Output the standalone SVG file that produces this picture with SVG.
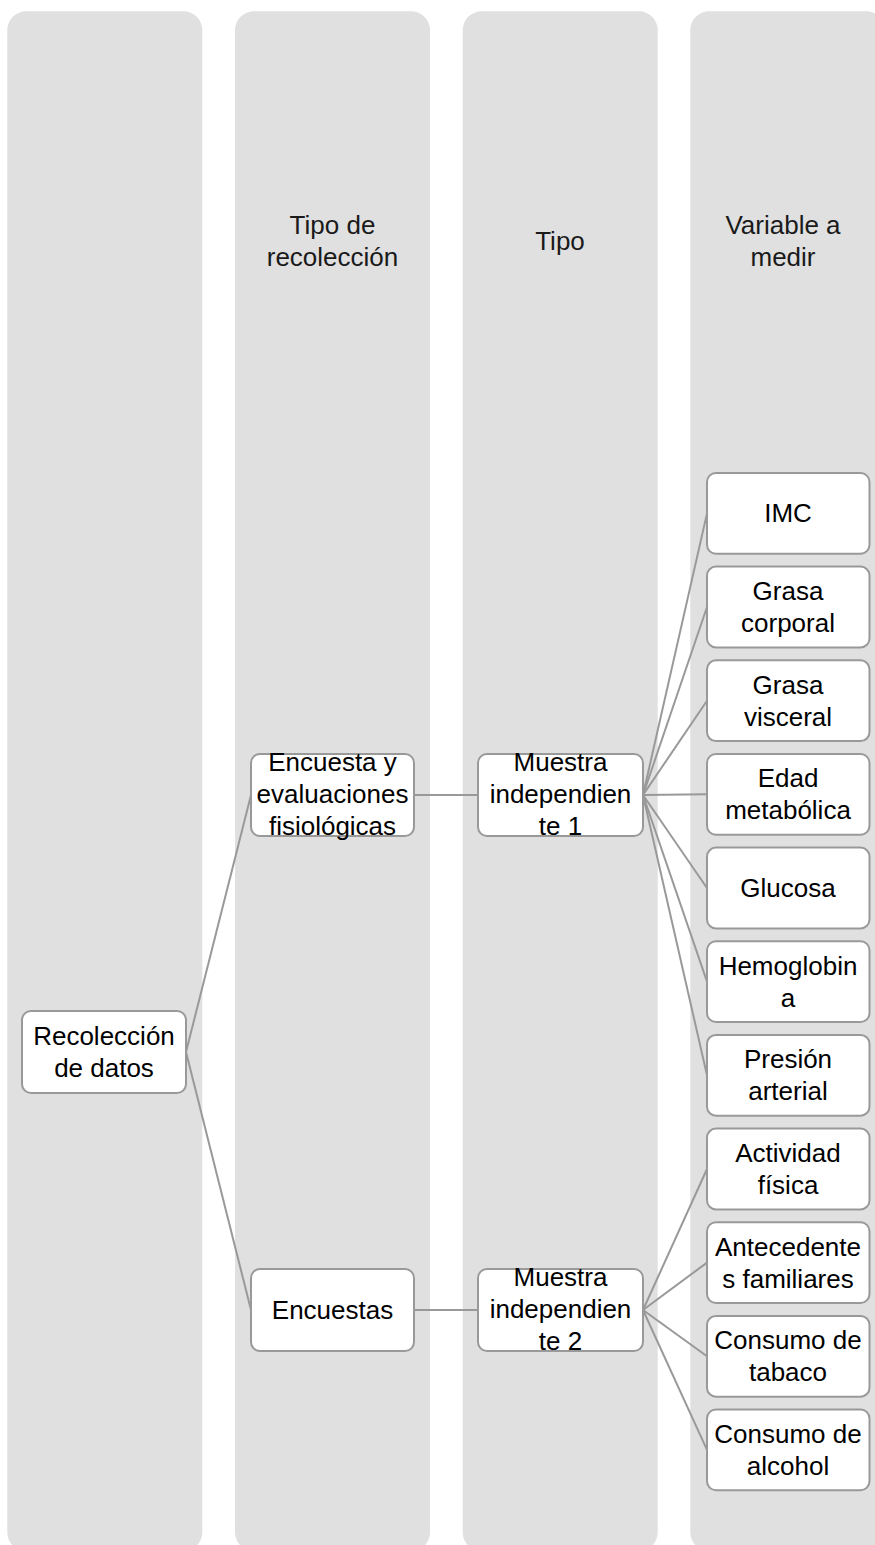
<svg xmlns="http://www.w3.org/2000/svg" width="875" height="1545" viewBox="0 0 875 1545">
<style>
.col{fill:#e0e0e0;}
.node rect{fill:#ffffff;stroke:#999999;stroke-width:2;}
text{font-family:"Liberation Sans",Arial,sans-serif;font-size:26px;fill:#000000;text-anchor:middle;}
.hdr{fill:#1a1a1a;}
#connectors line{stroke:#999999;stroke-width:2;}
</style>
<g id="columns">
<rect class="col" x="7.3" y="11.3" width="195" height="1540" rx="19"/>
<rect class="col" x="235" y="11.3" width="195" height="1540" rx="19"/>
<rect class="col" x="462.7" y="11.3" width="195" height="1540" rx="19"/>
<rect class="col" x="690.3" y="11.3" width="195" height="1540" rx="19"/>
</g>
<g id="headers">
<text class="hdr" x="332.5" y="234">Tipo de</text>
<text class="hdr" x="332.5" y="266">recolección</text>
<text class="hdr" x="560" y="250">Tipo</text>
<text class="hdr" x="783" y="234">Variable a</text>
<text class="hdr" x="783" y="266">medir</text>
</g>
<g id="connectors">
<line x1="186" y1="1052" x2="251" y2="795"/>
<line x1="186" y1="1052" x2="251" y2="1310"/>
<line x1="414" y1="795" x2="478" y2="795"/>
<line x1="414" y1="1310" x2="478" y2="1310"/>
<line x1="643" y1="795" x2="707" y2="513.4"/>
<line x1="643" y1="795" x2="707" y2="607"/>
<line x1="643" y1="795" x2="707" y2="700.7"/>
<line x1="643" y1="795" x2="707" y2="794.3"/>
<line x1="643" y1="795" x2="707" y2="888"/>
<line x1="643" y1="795" x2="707" y2="981.6"/>
<line x1="643" y1="795" x2="707" y2="1075.3"/>
<line x1="643" y1="1310" x2="707" y2="1169"/>
<line x1="643" y1="1310" x2="707" y2="1262.6"/>
<line x1="643" y1="1310" x2="707" y2="1356.3"/>
<line x1="643" y1="1310" x2="707" y2="1449.9"/>
</g>
<g id="n-recoleccion" class="node">
<rect x="22" y="1011" width="164" height="82" rx="9"/>
<text x="104" y="1045">Recolección</text>
<text x="104" y="1077">de datos</text>
</g>
<g id="n-encuesta-eval" class="node">
<rect x="251" y="754" width="163" height="82" rx="9"/>
<text x="332.5" y="771">Encuesta y</text>
<text x="332.5" y="803">evaluaciones</text>
<text x="332.5" y="835">fisiológicas</text>
</g>
<g id="n-encuestas" class="node">
<rect x="251" y="1269" width="163" height="82" rx="9"/>
<text x="332.5" y="1319">Encuestas</text>
</g>
<g id="n-muestra1" class="node">
<rect x="478" y="754" width="165" height="82" rx="9"/>
<text x="560.5" y="771">Muestra</text>
<text x="560.5" y="803">independien</text>
<text x="560.5" y="835">te 1</text>
</g>
<g id="n-muestra2" class="node">
<rect x="478" y="1269" width="165" height="82" rx="9"/>
<text x="560.5" y="1286">Muestra</text>
<text x="560.5" y="1318">independien</text>
<text x="560.5" y="1350">te 2</text>
</g>
<g id="n-imc" class="node">
<rect x="707" y="473" width="162.5" height="80.8" rx="9"/>
<text x="788" y="522">IMC</text>
</g>
<g id="n-grasa-corporal" class="node">
<rect x="707" y="566.6" width="162.5" height="80.8" rx="9"/>
<text x="788" y="600">Grasa</text>
<text x="788" y="632">corporal</text>
</g>
<g id="n-grasa-visceral" class="node">
<rect x="707" y="660.3" width="162.5" height="80.8" rx="9"/>
<text x="788" y="694">Grasa</text>
<text x="788" y="726">visceral</text>
</g>
<g id="n-edad" class="node">
<rect x="707" y="754" width="162.5" height="80.8" rx="9"/>
<text x="788" y="787">Edad</text>
<text x="788" y="819">metabólica</text>
</g>
<g id="n-glucosa" class="node">
<rect x="707" y="847.6" width="162.5" height="80.8" rx="9"/>
<text x="788" y="897">Glucosa</text>
</g>
<g id="n-hemoglobina" class="node">
<rect x="707" y="941.2" width="162.5" height="80.8" rx="9"/>
<text x="788" y="975">Hemoglobin</text>
<text x="788" y="1007">a</text>
</g>
<g id="n-presion" class="node">
<rect x="707" y="1034.9" width="162.5" height="80.8" rx="9"/>
<text x="788" y="1068">Presión</text>
<text x="788" y="1100">arterial</text>
</g>
<g id="n-actividad" class="node">
<rect x="707" y="1128.6" width="162.5" height="80.8" rx="9"/>
<text x="788" y="1162">Actividad</text>
<text x="788" y="1194">física</text>
</g>
<g id="n-antecedentes" class="node">
<rect x="707" y="1222.2" width="162.5" height="80.8" rx="9"/>
<text x="788" y="1256">Antecedente</text>
<text x="788" y="1288">s familiares</text>
</g>
<g id="n-tabaco" class="node">
<rect x="707" y="1315.9" width="162.5" height="80.8" rx="9"/>
<text x="788" y="1349">Consumo de</text>
<text x="788" y="1381">tabaco</text>
</g>
<g id="n-alcohol" class="node">
<rect x="707" y="1409.5" width="162.5" height="80.8" rx="9"/>
<text x="788" y="1443">Consumo de</text>
<text x="788" y="1475">alcohol</text>
</g>
</svg>
